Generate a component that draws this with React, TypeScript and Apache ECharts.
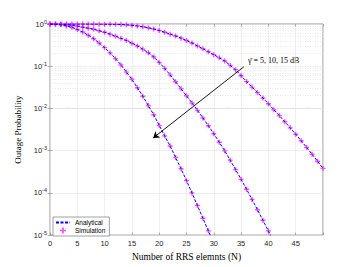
import React, { useEffect, useRef } from 'react';
import * as echarts from 'echarts';

// Number of RRS elements N (x axis ticks)
const xTickLabels = [0, 5, 10, 15, 20, 25, 30, 35, 40, 45];

// Analytical outage probability, N = 0,1,2,...
const analytic5dB = [1, 0.989, 0.955, 0.902, 0.832, 0.741, 0.646, 0.543, 0.447, 0.355, 0.275, 0.207, 0.151, 0.107, 0.0724, 0.049, 0.0309, 0.0195, 0.0117, 0.00708, 0.00398, 0.00224, 0.00129, 6.92e-4, 3.72e-4, 1.95e-4, 1.0e-4, 5.01e-5, 2.51e-5, 1.26e-5, 6.3e-6];
const analytic10dB = [1, 0.995, 0.984, 0.964, 0.933, 0.891, 0.841, 0.794, 0.75, 0.692, 0.638, 0.575, 0.513, 0.457, 0.407, 0.351, 0.302, 0.254, 0.209, 0.166, 0.123, 0.0891, 0.0624, 0.0427, 0.0292, 0.02, 0.0135, 0.00902, 0.00596, 0.00389, 0.00251, 0.00158, 9.89e-4, 5.96e-4, 3.55e-4, 2.09e-4, 1.22e-4, 7.0e-5, 3.98e-5, 2.24e-5, 1.26e-5, 6.9e-6];
const analytic15dB = [1, 1, 0.999, 0.999, 0.998, 0.997, 0.996, 0.995, 0.994, 0.992, 0.99, 0.986, 0.982, 0.973, 0.955, 0.933, 0.902, 0.861, 0.813, 0.759, 0.7, 0.638, 0.575, 0.519, 0.462, 0.407, 0.355, 0.302, 0.26, 0.221, 0.188, 0.158, 0.133, 0.105, 0.0822, 0.0596, 0.0432, 0.032, 0.0237, 0.0176, 0.0129, 0.00933, 0.00676, 0.00484, 0.00347, 0.00245, 0.00172, 0.00119, 8.22e-4, 5.62e-4, 3.8e-4];

// Simulation points (on the analytical curves), N = 0,1,2,...
const sim5dB = analytic5dB.slice(0, 30);
const sim10dB = analytic10dB.slice(0, 41);
const sim15dB = analytic15dB.slice(0, 51);

// Arrow annotation endpoints [N, P]
const arrowStart = [35.5, 0.097];
const arrowEnd = [18.9, 0.002];
const annotation = 'γ̄ = 5, 10, 15 dB';

const PLUS = 'path://M1.8,0H3.2V1.8H5V3.2H3.2V5H1.8V3.2H0V1.8H1.8Z';

const toPairs = (arr: number[]) => arr.map((v, i) => [i, v]);

export default function App() {
  const ref = useRef<HTMLDivElement>(null);
  useEffect(() => {
    document.body.style.margin = '0';
    const chart = echarts.init(ref.current!, null, { renderer: 'svg' });
    const minorLines: any[] = [];
    for (let e = -5; e < 0; e++) {
      for (let k = 2; k <= 9; k++) minorLines.push({ yAxis: k * Math.pow(10, e) });
    }
    const sans = 'Liberation Sans';
    const serif = 'Liberation Serif';
    const analyticStyle = { color: '#0000ff', width: 1, type: [3, 1.5] as any };
    const simSeries = [sim5dB, sim10dB, sim15dB].map((arr) => ({
      type: 'scatter',
      name: 'Simulation',
      data: toPairs(arr),
      symbol: PLUS,
      symbolSize: 5,
      symbolKeepAspect: true,
      itemStyle: { color: '#ff22ff' },
      z: 2,
      silent: true,
    }));
    const lineSeries = [analytic5dB, analytic10dB, analytic15dB].map((arr, i) => {
      const s: any = {
        type: 'line',
        name: 'Analytical',
        data: toPairs(arr),
        symbol: 'none',
        lineStyle: analyticStyle,
        itemStyle: { color: '#0000ff' },
        z: 3,
        silent: true,
      };
      if (i === 0) {
        s.markLine = {
          silent: true,
          symbol: 'none',
          label: { show: false },
          lineStyle: { color: '#dcdcdc', type: [1, 1.5], width: 0.6 },
          data: minorLines,
          z: 0,
        };
      }
      if (i === 1) {
        s.markLine = {
          silent: true,
          symbol: ['none', 'arrow'],
          symbolSize: 6,
          label: { show: false },
          lineStyle: { color: '#000', type: 'solid', width: 0.9 },
          data: [[{ coord: arrowStart }, { coord: arrowEnd }]],
        };
      }
      return s;
    });
    const option: any = {
      animation: false,
      backgroundColor: '#fff',
      grid: { left: 50, right: 29, top: 24, bottom: 26, show: true, borderColor: '#7a7a7a', borderWidth: 0.8, backgroundColor: 'transparent' },
      legend: {
        orient: 'vertical',
        left: 53,
        top: 217,
        padding: [2, 4, 2, 2],
        itemGap: 1,
        itemWidth: 14,
        itemHeight: 6,
        backgroundColor: '#fff',
        borderColor: '#888',
        borderWidth: 0.8,
        borderRadius: 0,
        textStyle: { fontFamily: sans, fontSize: 6.5, color: '#000' },
        data: [
          { name: 'Analytical', itemStyle: { opacity: 0 } },
          { name: 'Simulation' },
        ],
      },
      xAxis: [
        {
          type: 'value',
          min: 0,
          max: 50,
          interval: 5,
          name: 'Number of RRS elemnts (N)',
          nameLocation: 'middle',
          nameGap: 14,
          nameTextStyle: { fontFamily: serif, fontSize: 9.5, color: '#000' },
          axisLine: { show: false },
          axisTick: { show: true, inside: true, length: 2.5, lineStyle: { color: '#7a7a7a', width: 0.6 } },
          axisLabel: {
            fontFamily: sans, fontSize: 7.5, color: '#262626', margin: 4,
            formatter: (v: number) => (xTickLabels.includes(v) ? String(v) : ''),
          },
          splitLine: { show: true, lineStyle: { color: '#e4e4e4', width: 0.6 } },
        },
        {
          type: 'value', position: 'top', min: 0, max: 50, interval: 5,
          axisLine: { show: false }, axisLabel: { show: false }, splitLine: { show: false },
          axisTick: { show: true, inside: true, length: 2.5, lineStyle: { color: '#7a7a7a', width: 0.6 } },
        },
      ],
      yAxis: [
        {
          type: 'log',
          logBase: 10,
          min: 1e-5,
          max: 1,
          name: 'Outage Probability',
          nameLocation: 'middle',
          nameRotate: 90,
          nameGap: 28,
          nameTextStyle: { fontFamily: serif, fontSize: 9, color: '#000' },
          axisLine: { show: false },
          axisTick: { show: true, inside: true, length: 2.5, lineStyle: { color: '#7a7a7a', width: 0.6 } },
          axisLabel: {
            margin: 3,
            formatter: (v: number) => `{b|10}{s|${Math.round(Math.log10(v))}}`,
            rich: {
              b: { fontFamily: sans, fontSize: 7.5, color: '#262626' },
              s: { fontFamily: sans, fontSize: 5.5, color: '#262626', padding: [0, 0, 5, 0] },
            },
          },
          splitLine: { show: true, lineStyle: { color: '#e4e4e4', width: 0.6 } },
        },
        {
          type: 'log', logBase: 10, min: 1e-5, max: 1, position: 'right',
          axisLine: { show: false }, axisLabel: { show: false }, splitLine: { show: false },
          axisTick: { show: true, inside: true, length: 2.5, lineStyle: { color: '#7a7a7a', width: 0.6 } },
        },
      ],
      graphic: [
        {
          type: 'text',
          left: 248,
          top: 56,
          style: { text: annotation, fontFamily: serif, fontSize: 8, fill: '#000' },
          silent: true,
        },
      ],
      series: [...simSeries, ...lineSeries],
    };
    chart.setOption(option);
    return () => chart.dispose();
  }, []);
  return <div ref={ref} style={{ width: 352, height: 267, background: '#fff' }} />;
}
